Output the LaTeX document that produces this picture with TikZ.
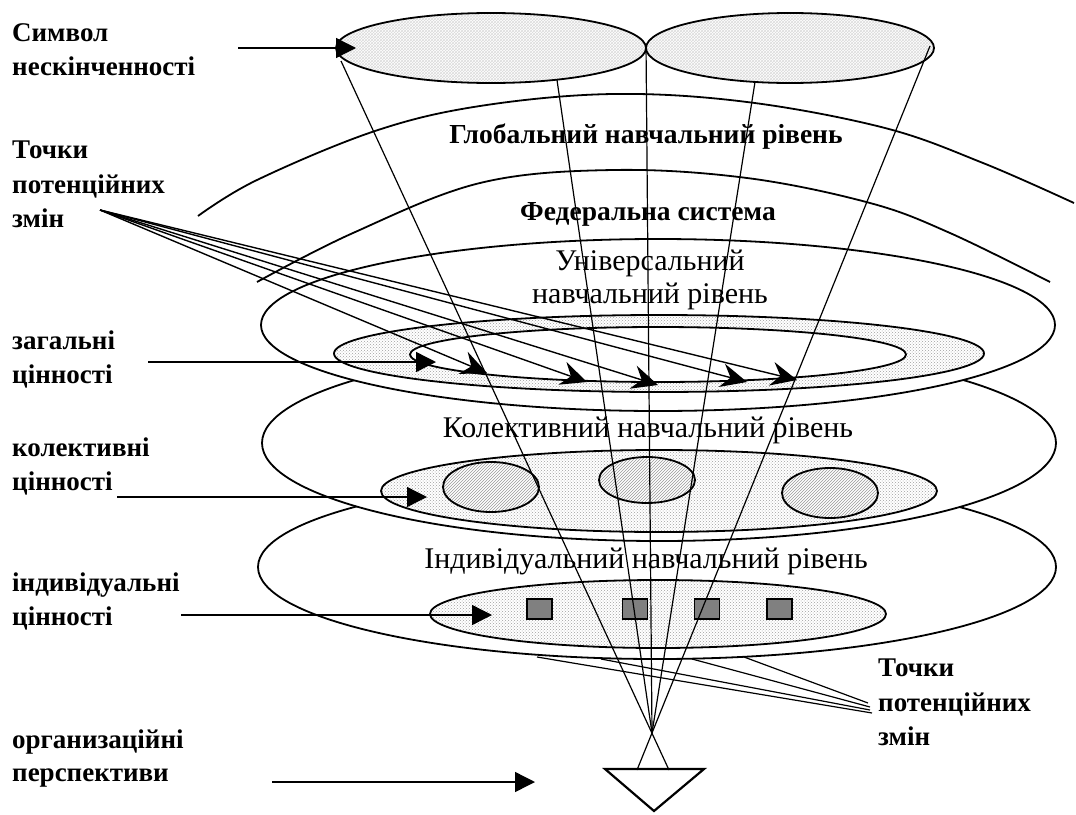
\documentclass[tikz,border=0pt]{standalone}
\usepackage{fontspec}
\setmainfont{Liberation Serif}
\usetikzlibrary{patterns,arrows.meta}
\begin{document}
\begin{tikzpicture}[x=1pt,y=-1pt,
  lab/.style={font=\fontsize{27}{30}\selectfont\bfseries, anchor=base west, inner sep=0pt},
  lvl/.style={font=\fontsize{30}{34}\selectfont, anchor=base, inner sep=0pt},
  lvlb/.style={font=\fontsize{27.5}{30}\selectfont\bfseries, anchor=base, inner sep=0pt},
  rim/.style={line width=1.8pt},
  thinln/.style={line width=1.2pt},
  dotfill/.style={preaction={fill=white}, pattern=crosshatch dots, pattern color=gray!75},
  meshfill/.style={preaction={fill=white}, pattern=crosshatch, pattern color=gray!28},
  hatchfill/.style={preaction={fill=white}, pattern=north east lines, pattern color=gray!80},
  sq/.style={draw, line width=1.2pt, fill=gray, minimum width=25pt, minimum height=20pt, inner sep=0pt},
  larrow/.style={line width=1.4pt, -{Triangle[length=20pt,width=20pt]}},
  sarrow/.style={line width=1.4pt, -{Stealth[length=26pt,width=24pt,inset=9pt]}}
]
\useasboundingbox (0,0) rectangle (1076,814);

% big arcs
\draw[rim] plot[smooth, tension=0.6] coordinates {(198,216) (257,180) (375,131) (480,106) (613,94) (747,102) (885,128) (983,163) (1074,203)};
\draw[rim] plot[smooth, tension=0.6] coordinates {(257,282) (353,233) (480,183) (613,170) (747,178) (870,203) (950,233) (1050,282)};

% individual level
\draw[rim, fill=white] (657,567) ellipse [x radius=399pt, y radius=92pt];
\draw[rim, dotfill] (658,614) ellipse [x radius=228pt, y radius=34pt];
\node[sq] (sq1) at (539.5,609) {};
\node[sq] (sq2) at (635,609) {};
\node[sq] (sq3) at (707,609) {};
\node[sq] (sq4) at (779.5,609) {};

% collective level
\draw[rim, fill=white] (659,443) ellipse [x radius=397pt, y radius=98pt];
\draw[rim, dotfill] (659,491) ellipse [x radius=278pt, y radius=41pt];
\draw[rim, hatchfill] (491,487) ellipse [x radius=48pt, y radius=25pt];
\draw[rim, hatchfill] (647,480) ellipse [x radius=48pt, y radius=23pt];
\draw[rim, hatchfill] (830,493) ellipse [x radius=48pt, y radius=25pt];

% universal level
\draw[rim, fill=white] (658,325) ellipse [x radius=397pt, y radius=86pt];
\draw[rim, dotfill, even odd rule] (659,353.5) ellipse [x radius=325pt, y radius=38.5pt]
   (658,354.5) ellipse [x radius=248pt, y radius=27.5pt];

% infinity symbol
\draw[rim, meshfill] (491,48) ellipse [x radius=155pt, y radius=35pt];
\draw[rim, meshfill] (790,48) ellipse [x radius=144pt, y radius=35pt];

% level texts
\node[lvlb] (glob) at (646,143) {Глобальний навчальний рівень};
\node[lvlb] (fed) at (648,220) {Федеральна система};
\node[lvl] (uni1) at (650,270) {Універсальний};
\node[lvl] (uni2) at (650,303) {навчальний рівень};
\node[lvl] (kol) at (648,437) {Колективний навчальний рівень};
\node[lvl] (ind) at (646,568) {Індивідуальний навчальний рівень};

% converging lines
\coordinate (C) at (652,733);
\coordinate (L1) at (341,61);
\coordinate (L2) at (557,80);
\coordinate (L3) at (646,44);
\coordinate (L4) at (755,82);
\coordinate (L5) at (930,46);
\coordinate (T1) at (669,770);
\coordinate (T5) at (637,770);
\draw[thinln] (L1) -- (T1);
\draw[thinln] (L5) -- (T5);
\draw[thinln] (L2) -- (C);
\draw[thinln] (L3) -- (C);
\draw[thinln] (L4) -- (C);

% triangle
\coordinate (TA) at (605,769);
\coordinate (TB) at (704,769);
\coordinate (TC) at (654,811);
\draw[line width=2.2pt, line join=miter] (TA) -- (TB) -- (TC) -- cycle;

% left labels
\node[lab] (s1) at (12,41) {Символ};
\node[lab] (s2) at (12,75) {нескінченності};
\node[lab] (p1) at (12,158) {Точки};
\node[lab] (p2) at (12,193) {потенційних};
\node[lab] (p3) at (12,227) {змін};
\node[lab] (z1) at (12,349) {загальні};
\node[lab] (z2) at (12,383) {цінності};
\node[lab] (k1) at (12,456) {колективні};
\node[lab] (k2) at (12,490) {цінності};
\node[lab] (i1) at (12,591) {індивідуальні};
\node[lab] (i2) at (12,625) {цінності};
\node[lab] (o1) at (12,748) {организаційні};
\node[lab] (o2) at (12,781) {перспективи};
% right labels
\node[lab] (q1) at (878,676) {Точки};
\node[lab] (q2) at (878,711) {потенційних};
\node[lab] (q3) at (878,745) {змін};

% label arrows
\coordinate (sA) at (238,48);  \coordinate (sB) at (356,48);
\coordinate (zA) at (148,362); \coordinate (zB) at (436,362);
\coordinate (kA) at (117,497); \coordinate (kB) at (427,497);
\coordinate (iA) at (181,615); \coordinate (iB) at (492,615);
\coordinate (oA) at (272,782); \coordinate (oB) at (535,782);
\draw[larrow] (sA) -- (sB);
\draw[larrow] (zA) -- (zB);
\draw[larrow] (kA) -- (kB);
\draw[larrow] (iA) -- (iB);
\draw[larrow] (oA) -- (oB);

% points of potential change (top)
\coordinate (P1) at (100,210);
\coordinate (A1) at (487,373);
\coordinate (A2) at (587,382);
\coordinate (A3) at (658,385);
\coordinate (A4) at (747,382);
\coordinate (A5) at (797,380);
\foreach \t in {A1,A2,A3,A4,A5} \draw[sarrow] (P1) -- (\t);

% points of potential change (bottom)
\coordinate (R1) at (868,703); \coordinate (E1) at (744,657);
\coordinate (R2) at (870,707); \coordinate (E2) at (692,659);
\coordinate (R3) at (870,710); \coordinate (E3) at (601,659);
\coordinate (R4) at (872,713); \coordinate (E4) at (537,657);
\draw[thinln] (R1) -- (E1);
\draw[thinln] (R2) -- (E2);
\draw[thinln] (R3) -- (E3);
\draw[thinln] (R4) -- (E4);
\end{tikzpicture}
\end{document}
